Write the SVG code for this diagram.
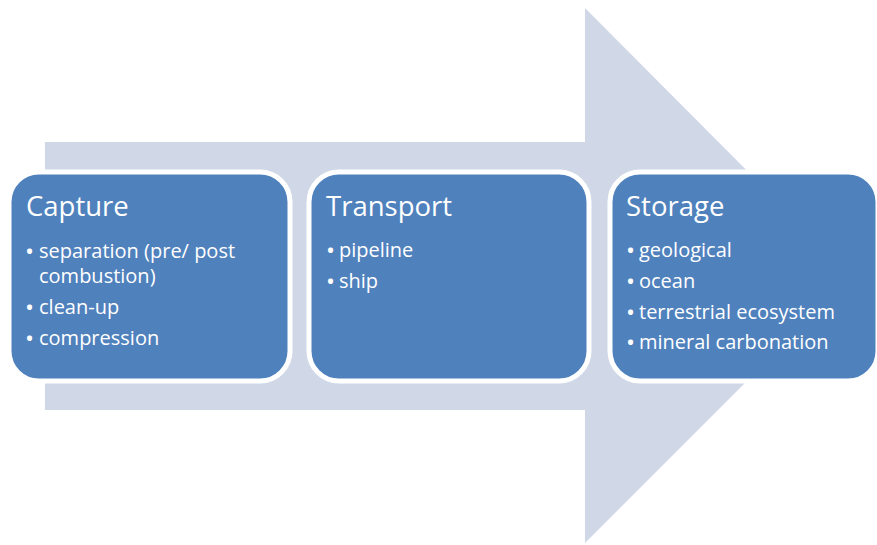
<svg xmlns="http://www.w3.org/2000/svg" width="877" height="545" viewBox="0 0 877 545">
<style>
.box{fill:#4F81BD;stroke:#FFFFFF;stroke-width:5}
.t{font-family:"Open Sans","Liberation Sans",sans-serif;fill:#FFFFFF}
.h{font-size:27.5px}
.b{font-size:20px}
.d{font-size:24px}
</style>
<rect width="877" height="545" fill="#FFFFFF"/>
<g id="arrow">
<polygon points="45,142 585,142 585,8 852,276 585,543 585,410 45,410" fill="#D0D8E8"/>
</g>
<g id="connectors"></g>
<g id="capture">
<rect class="box" x="9" y="172" width="281" height="209" rx="30"/>
<text class="t h" x="26" y="216">Capture</text>
<text class="t b" x="25" y="258"><tspan class="d" dy="1.5">•</tspan><tspan x="39" dy="-1.5">separation (pre/ post</tspan><tspan x="39" y="283">combustion)</tspan></text>
<text class="t b" x="25" y="314"><tspan class="d" dy="1.5">•</tspan><tspan x="39" dy="-1.5">clean-up</tspan></text>
<text class="t b" x="25" y="345"><tspan class="d" dy="1.5">•</tspan><tspan x="39" dy="-1.5">compression</tspan></text>
</g>
<g id="transport">
<rect class="box" x="309" y="172" width="280" height="209" rx="30"/>
<text class="t h" x="326" y="216">Transport</text>
<text class="t b" x="326" y="257"><tspan class="d" dy="1.5">•</tspan><tspan x="339" dy="-1.5">pipeline</tspan></text>
<text class="t b" x="326" y="288"><tspan class="d" dy="1.5">•</tspan><tspan x="339" dy="-1.5">ship</tspan></text>
</g>
<g id="storage">
<rect class="box" x="610" y="172" width="268" height="209" rx="30"/>
<text class="t h" x="626" y="216">Storage</text>
<text class="t b" x="626" y="257"><tspan class="d" dy="1.5">•</tspan><tspan x="639" dy="-1.5">geological</tspan></text>
<text class="t b" x="626" y="288"><tspan class="d" dy="1.5">•</tspan><tspan x="639" dy="-1.5">ocean</tspan></text>
<text class="t b" x="626" y="319"><tspan class="d" dy="1.5">•</tspan><tspan x="639" dy="-1.5">terrestrial ecosystem</tspan></text>
<text class="t b" x="626" y="349"><tspan class="d" dy="1.5">•</tspan><tspan x="639" dy="-1.5">mineral carbonation</tspan></text>
</g>
</svg>
